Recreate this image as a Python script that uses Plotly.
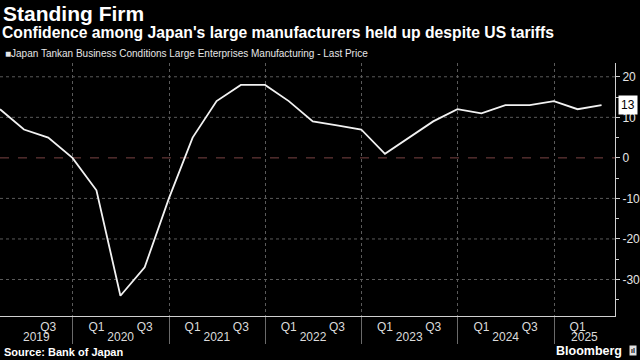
import plotly.graph_objects as go

# ---- data ----
quarter_dates = [
    "2019-03-31", "2019-06-30", "2019-09-30", "2019-12-31",
    "2020-03-31", "2020-06-30", "2020-09-30", "2020-12-31",
    "2021-03-31", "2021-06-30", "2021-09-30", "2021-12-31",
    "2022-03-31", "2022-06-30", "2022-09-30", "2022-12-31",
    "2023-03-31", "2023-06-30", "2023-09-30", "2023-12-31",
    "2024-03-31", "2024-06-30", "2024-09-30", "2024-12-31",
    "2025-03-31", "2025-06-30",
]
di_values = [12, 7, 5, 0,
             -8, -34, -27, -10,
             5, 14, 18, 18,
             14, 9, 8, 7,
             1, 5, 9, 12,
             11, 13, 13, 14,
             12, 13]

year_bounds = ["2020-01-01", "2021-01-01", "2022-01-01",
               "2023-01-01", "2024-01-01", "2025-01-01"]
q_label_dates = ["2019-09-30", "2020-03-31", "2020-09-30", "2021-03-31",
                 "2021-09-30", "2022-03-31", "2022-09-30", "2023-03-31",
                 "2023-09-30", "2024-03-31", "2024-09-30", "2025-03-31"]
q_label_text = ["Q3", "Q1", "Q3", "Q1", "Q3", "Q1", "Q3", "Q1", "Q3", "Q1", "Q3", "Q1"]
year_label_dates = ["2019-08-16", "2020-07-01", "2021-07-01", "2022-07-01",
                    "2023-07-01", "2024-07-01", "2025-04-26"]
year_label_text = ["2019", "2020", "2021", "2022", "2023", "2024", "2025"]
y_major = [-30, -20, -10, 0, 10, 20]
y_major_text = ["-30", "-20", "-10", "0", "10", "20"]
y_minor = [-35, -25, -15, -5, 5, 15]
y_grid = [-30, -20, -10, 10, 20]
x_range = ["2019-03-31", "2025-08-20"]
y_range = [-39, 23.4]
last_value = di_values[-1]

FONT = "Liberation Sans, Arial, sans-serif"

fig = go.Figure()
fig.add_trace(go.Scatter(
    x=quarter_dates, y=di_values, mode="lines",
    line=dict(color="#f2f2f2", width=1.8),
    showlegend=False, hoverinfo="skip",
))
# same series on the year-label axis, fully transparent (only makes that axis render)
fig.add_trace(go.Scatter(
    x=quarter_dates, y=di_values, mode="lines", xaxis="x2",
    line=dict(color="rgba(0,0,0,0)", width=0), opacity=0,
    showlegend=False, hoverinfo="skip",
))

shapes = []
for g in y_grid:
    shapes.append(dict(type="line", xref="paper", yref="y", x0=0, x1=1, y0=g, y1=g,
                       line=dict(color="#5a5a5a", width=1, dash="dot"), layer="below"))
shapes.append(dict(type="line", xref="paper", yref="y", x0=0, x1=1, y0=0, y1=0,
                   line=dict(color="#7a4444", width=1, dash="dash"), layer="below"))

fig.update_layout(
    width=640, height=360,
    paper_bgcolor="#000000", plot_bgcolor="#000000",
    margin=dict(l=0, r=25, t=63, b=44, autoexpand=False),
    font=dict(family=FONT, color="#e6e6e6", size=12),
    shapes=shapes,
    xaxis=dict(
        type="date", range=x_range, automargin=False,
        tickvals=q_label_dates, ticktext=q_label_text,
        tickangle=0, ticks="", showgrid=False, zeroline=False,
        showline=True, linecolor="#d0d0d0", linewidth=1,
        tickfont=dict(size=12, color="#dcdcdc", family=FONT),
        minor=dict(tickvals=year_bounds, ticks="outside", ticklen=27,
                   tickcolor="#6a6a6a", tickwidth=1,
                   showgrid=True, gridcolor="#5a5a5a", griddash="dot", gridwidth=1),
    ),
    xaxis2=dict(
        type="date", range=x_range, automargin=False, overlaying="x", anchor="y",
        side="bottom",
        tickvals=year_label_dates, ticktext=year_label_text,
        tickangle=0, ticks="", showgrid=False, zeroline=False, showline=False,
        ticklabelstandoff=12,
        tickfont=dict(size=12, color="#dcdcdc", family=FONT),
    ),
    yaxis=dict(
        side="right", range=y_range, automargin=False,
        tickvals=y_major, ticktext=y_major_text,
        ticks="outside", ticklen=4, tickcolor="#d0d0d0",
        showgrid=False, zeroline=False,
        showline=True, linecolor="#d0d0d0", linewidth=1,
        tickfont=dict(size=12, color="#e6e6e6", family=FONT),
        minor=dict(tickvals=y_minor, ticks="outside", ticklen=3, tickcolor="#d0d0d0"),
    ),
    annotations=[
        dict(text="<b>Standing Firm</b>", xref="paper", yref="paper", x=0.0, y=1.1976,
             xanchor="left", yanchor="middle", showarrow=False, xshift=1,
             font=dict(size=21, color="#ffffff", family=FONT)),
        dict(text="<b>Confidence among Japan's large manufacturers held up despite US tariffs</b>",
             xref="paper", yref="paper", x=0.0, y=1.1225, xanchor="left", yanchor="middle",
             showarrow=False, xshift=0, font=dict(size=15.7, color="#ffffff", family=FONT)),
        dict(text="■Japan Tankan Business Conditions Large Enterprises Manufacturing - Last Price",
             xref="paper", yref="paper", x=0.0, y=1.0395, xanchor="left", yanchor="middle",
             showarrow=False, xshift=3, font=dict(size=10, color="#e6e6e6", family=FONT)),
        dict(text="<b>Source: Bank of Japan</b>", xref="paper", yref="paper", x=0.0, y=-0.1423,
             xanchor="left", yanchor="middle", showarrow=False, xshift=2,
             font=dict(size=11, color="#ffffff", family=FONT)),
        dict(text="<b>Bloomberg</b>", xref="paper", yref="paper", x=1.0, y=-0.138,
             xanchor="right", yanchor="middle", showarrow=False, xshift=9,
             font=dict(size=12.5, color="#ffffff", family=FONT)),
        dict(text="<b>ıl</b>", xref="paper", yref="paper", x=1.0, y=-0.138,
             xanchor="left", yanchor="middle", showarrow=False, xshift=14,
             bgcolor="#e0e0e0", borderpad=1,
             font=dict(size=7, color="#000000", family=FONT)),
        dict(text=str(last_value), xref="paper", yref="y", x=1.0, y=last_value,
             xanchor="left", yanchor="middle", showarrow=False, xshift=3,
             bgcolor="#ffffff", borderpad=2,
             font=dict(size=12, color="#000000", family=FONT)),
    ],
)

fig.write_html("out.html", config={"displayModeBar": False},
               post_script="document.body.style.margin='0px';")
